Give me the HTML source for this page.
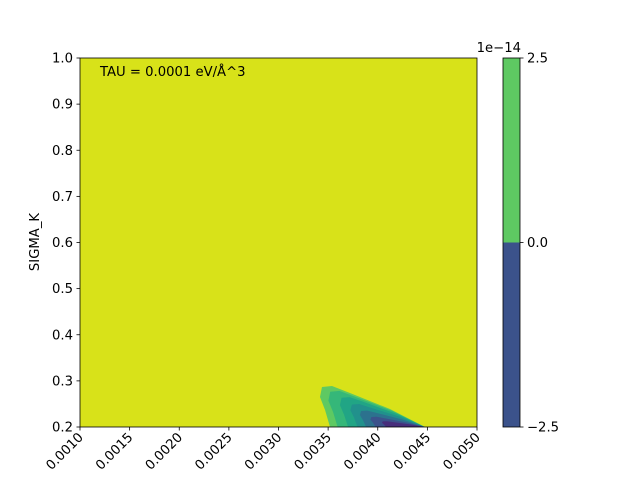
<!DOCTYPE html>
<html><head><meta charset="utf-8"><style>
body{margin:0;background:#fff;font-family:"Liberation Sans","DejaVu Sans",sans-serif}
svg text{font-family:"DejaVu Sans","Liberation Sans",sans-serif;font-size:13.2px;fill:#000}
</style></head><body>
<svg id="c" width="640" height="480" xmlns="http://www.w3.org/2000/svg"></svg>
<script>
const xTicks=[0.001,0.0015,0.002,0.0025,0.003,0.0035,0.004,0.0045,0.005];
const xTickLabels=["0.0010","0.0015","0.0020","0.0025","0.0030","0.0035","0.0040","0.0045","0.0050"];
const yTicks=[0.2,0.3,0.4,0.5,0.6,0.7,0.8,0.9,1.0];
const yTickLabels=["0.2","0.3","0.4","0.5","0.6","0.7","0.8","0.9","1.0"];
const outerX=[0.003519,0.003469,0.003418,0.003438,0.003539,0.00372,0.004123,0.004476];
const outerY=[0.2,0.2369,0.265,0.2867,0.2889,0.2737,0.239,0.2];
const anchor=[0.004476,0.2];
const levelSX=[1,0.92,0.81,0.71,0.62,0.52,0.41];
const levelSY=[1,0.88,0.73,0.56,0.4,0.25,0.14];
const levelColors=["#5ec962","#35b779","#21a585","#21918c","#2c728e","#3b528b","#472d7b"];
const cbTicks=[2.5,0.0,-2.5];
const cbTickLabels=["2.5","0.0","\u22122.5"];
const NS="http://www.w3.org/2000/svg";
const svg=document.getElementById('c');
const L=80,R=477,T=58,B=427;
const sx=v=>L+(v-0.001)/(0.004)*(R-L);
const sy=v=>B-(v-0.2)/0.8*(B-T);
function mk(t,a,p){const e=document.createElementNS(NS,t);for(const k in a)e.setAttribute(k,a[k]);(p||svg).appendChild(e);return e;}
const bg=mk('rect',{x:L,y:T,width:R-L,height:B-T,fill:"#d8e219"});


const clip=mk('clipPath',{id:'cp'});mk('rect',{x:L,y:T,width:R-L,height:B-T},clip);
const g=mk('g',{'clip-path':'url(#cp)'});
levelSX.forEach((s,i)=>{
  const pts=outerX.map((x,j)=>{const dx=anchor[0]+(x-anchor[0])*s;const dy=anchor[1]+(outerY[j]-anchor[1])*levelSY[i];return sx(dx)+","+sy(dy);}).join(" ");
  const p=mk('polygon',{points:pts,fill:levelColors[i],'stroke-linejoin':'round'},g);
  
  
});
const fr=mk('rect',{x:L,y:T,width:R-L,height:B-T,fill:"none",stroke:"#000","stroke-width":0.8});


xTicks.forEach((v,i)=>{const x=sx(v);mk('line',{x1:x,x2:x,y1:B,y2:B+3.5,stroke:"#000","stroke-width":0.8});
  const t=mk('text',{x:x+4,y:B+11,'text-anchor':'end',transform:`rotate(-45 ${x+4} ${B+11})`});t.textContent=xTickLabels[i];
  
  });
yTicks.forEach((v,i)=>{const y=sy(v);mk('line',{x1:L-3.5,x2:L,y1:y,y2:y,stroke:"#000","stroke-width":0.8});
  const t=mk('text',{x:L-7,y:y+4.5,'text-anchor':'end'});t.textContent=yTickLabels[i];
  
  });
const yt=mk('text',{x:39,y:242,'text-anchor':'middle',transform:'rotate(-90 39 242)'});yt.textContent="SIGMA_K";


const ann=mk('text',{x:100,y:76});ann.textContent="TAU = 0.0001 eV/Å^3";


const CL=503,CR=520;const cy=v=>B-(v+2.5)/5*(B-T);
const c1=mk('rect',{x:CL,y:cy(2.5),width:CR-CL,height:cy(0)-cy(2.5),fill:"#5ec962"});


const c2=mk('rect',{x:CL,y:cy(0),width:CR-CL,height:cy(-2.5)-cy(0),fill:"#3b528b"});


mk('rect',{x:CL,y:T,width:CR-CL,height:B-T,fill:"none",stroke:"#000","stroke-width":0.8});
cbTicks.forEach((v,i)=>{const y=cy(v);mk('line',{x1:CR,x2:CR+3.5,y1:y,y2:y,stroke:"#000","stroke-width":0.8});
  const t=mk('text',{x:CR+7,y:y+4.5});t.textContent=cbTickLabels[i];
  
  });
const off=mk('text',{x:521,y:52,'text-anchor':'end'});off.textContent="1e\u221214";


</script>
</body></html>
